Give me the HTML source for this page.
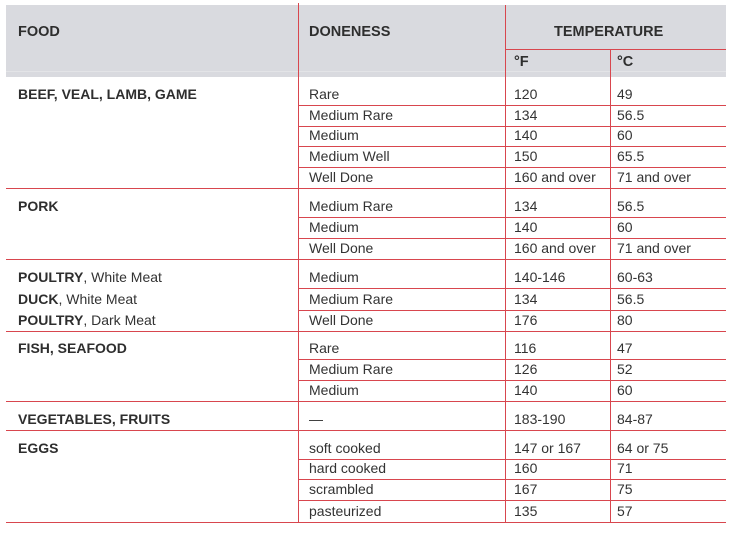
<!DOCTYPE html>
<html>
<head>
<meta charset="utf-8">
<style>
  html, body { margin: 0; padding: 0; background: #fff; }
  body { width: 732px; height: 533px; position: relative; overflow: hidden;
         font-family: "Liberation Sans", Arial, sans-serif; font-size: 14px; color: #333; }
  .hdr { position: absolute; left: 6px; top: 5px; width: 720px; height: 72px; background: #d9dadf; }
  .hdr2 { position: absolute; left: 6px; top: 71px; width: 720px; height: 1px; background: #e3e4e7; }
  .h { position: absolute; height: 1px; background: #d8464e; }
  .v { position: absolute; width: 1px; background: #d8464e; }
  .t { position: absolute; line-height: 16px; white-space: nowrap; }
  .b { font-weight: bold; color: #2e2e2e; }
  .hd { font-size: 14.5px; }
</style>
</head>
<body>
<div class="hdr"></div>
<div class="hdr2"></div>

<!-- header text -->
<div class="t b hd" style="left:18px;top:24px;">FOOD</div>
<div class="t b hd" style="left:309px;top:24px;">DONENESS</div>
<div class="t b hd" style="left:554px;top:24px;">TEMPERATURE</div>
<div class="t b hd" style="left:514px;top:54px;">°F</div>
<div class="t b hd" style="left:617px;top:54px;">°C</div>

<!-- horizontal lines -->
<div class="h" style="left:505px;width:221px;top:49px;"></div>

<div class="h" style="left:298px;width:428px;top:105px;"></div>
<div class="h" style="left:298px;width:428px;top:126px;"></div>
<div class="h" style="left:298px;width:428px;top:146px;"></div>
<div class="h" style="left:298px;width:428px;top:167px;"></div>
<div class="h" style="left:6px;width:720px;top:188px;"></div>

<div class="h" style="left:298px;width:428px;top:217px;"></div>
<div class="h" style="left:298px;width:428px;top:238px;"></div>
<div class="h" style="left:6px;width:720px;top:259px;"></div>

<div class="h" style="left:298px;width:428px;top:288px;"></div>
<div class="h" style="left:298px;width:428px;top:310px;"></div>
<div class="h" style="left:6px;width:720px;top:331px;"></div>

<div class="h" style="left:298px;width:428px;top:359px;"></div>
<div class="h" style="left:298px;width:428px;top:380px;"></div>
<div class="h" style="left:6px;width:720px;top:401px;"></div>

<div class="h" style="left:6px;width:720px;top:430px;"></div>

<div class="h" style="left:298px;width:428px;top:459px;"></div>
<div class="h" style="left:298px;width:428px;top:479px;"></div>
<div class="h" style="left:298px;width:428px;top:500px;"></div>
<div class="h" style="left:6px;width:720px;top:522px;"></div>

<!-- vertical lines -->
<div class="v" style="left:298px;top:3px;height:520px;"></div>
<div class="v" style="left:505px;top:5px;height:518px;"></div>
<div class="v" style="left:610px;top:49px;height:474px;"></div>

<!-- BEEF -->
<div class="t b" style="left:18px;top:86px;">BEEF, VEAL, LAMB, GAME</div>
<div class="t" style="left:309px;top:86px;">Rare</div>
<div class="t" style="left:514px;top:86px;">120</div>
<div class="t" style="left:617px;top:86px;">49</div>

<div class="t" style="left:309px;top:107px;">Medium Rare</div>
<div class="t" style="left:514px;top:107px;">134</div>
<div class="t" style="left:617px;top:107px;">56.5</div>

<div class="t" style="left:309px;top:127px;">Medium</div>
<div class="t" style="left:514px;top:127px;">140</div>
<div class="t" style="left:617px;top:127px;">60</div>

<div class="t" style="left:309px;top:148px;">Medium Well</div>
<div class="t" style="left:514px;top:148px;">150</div>
<div class="t" style="left:617px;top:148px;">65.5</div>

<div class="t" style="left:309px;top:169px;">Well Done</div>
<div class="t" style="left:514px;top:169px;">160 and over</div>
<div class="t" style="left:617px;top:169px;">71 and over</div>

<!-- PORK -->
<div class="t b" style="left:18px;top:198px;">PORK</div>
<div class="t" style="left:309px;top:198px;">Medium Rare</div>
<div class="t" style="left:514px;top:198px;">134</div>
<div class="t" style="left:617px;top:198px;">56.5</div>

<div class="t" style="left:309px;top:219px;">Medium</div>
<div class="t" style="left:514px;top:219px;">140</div>
<div class="t" style="left:617px;top:219px;">60</div>

<div class="t" style="left:309px;top:240px;">Well Done</div>
<div class="t" style="left:514px;top:240px;">160 and over</div>
<div class="t" style="left:617px;top:240px;">71 and over</div>

<!-- POULTRY -->
<div class="t" style="left:18px;top:269px;"><span class="b">POULTRY</span>, White Meat</div>
<div class="t" style="left:309px;top:269px;">Medium</div>
<div class="t" style="left:514px;top:269px;">140-146</div>
<div class="t" style="left:617px;top:269px;">60-63</div>

<div class="t" style="left:18px;top:291px;"><span class="b">DUCK</span>, White Meat</div>
<div class="t" style="left:309px;top:291px;">Medium Rare</div>
<div class="t" style="left:514px;top:291px;">134</div>
<div class="t" style="left:617px;top:291px;">56.5</div>

<div class="t" style="left:18px;top:312px;"><span class="b">POULTRY</span>, Dark Meat</div>
<div class="t" style="left:309px;top:312px;">Well Done</div>
<div class="t" style="left:514px;top:312px;">176</div>
<div class="t" style="left:617px;top:312px;">80</div>

<!-- FISH -->
<div class="t b" style="left:18px;top:340px;">FISH, SEAFOOD</div>
<div class="t" style="left:309px;top:340px;">Rare</div>
<div class="t" style="left:514px;top:340px;">116</div>
<div class="t" style="left:617px;top:340px;">47</div>

<div class="t" style="left:309px;top:361px;">Medium Rare</div>
<div class="t" style="left:514px;top:361px;">126</div>
<div class="t" style="left:617px;top:361px;">52</div>

<div class="t" style="left:309px;top:382px;">Medium</div>
<div class="t" style="left:514px;top:382px;">140</div>
<div class="t" style="left:617px;top:382px;">60</div>

<!-- VEG -->
<div class="t b" style="left:18px;top:411px;">VEGETABLES, FRUITS</div>
<div class="t" style="left:309px;top:411px;">—</div>
<div class="t" style="left:514px;top:411px;">183-190</div>
<div class="t" style="left:617px;top:411px;">84-87</div>

<!-- EGGS -->
<div class="t b" style="left:18px;top:440px;">EGGS</div>
<div class="t" style="left:309px;top:440px;">soft cooked</div>
<div class="t" style="left:514px;top:440px;">147 or 167</div>
<div class="t" style="left:617px;top:440px;">64 or 75</div>

<div class="t" style="left:309px;top:460px;">hard cooked</div>
<div class="t" style="left:514px;top:460px;">160</div>
<div class="t" style="left:617px;top:460px;">71</div>

<div class="t" style="left:309px;top:481px;">scrambled</div>
<div class="t" style="left:514px;top:481px;">167</div>
<div class="t" style="left:617px;top:481px;">75</div>

<div class="t" style="left:309px;top:503px;">pasteurized</div>
<div class="t" style="left:514px;top:503px;">135</div>
<div class="t" style="left:617px;top:503px;">57</div>
</body>
</html>
